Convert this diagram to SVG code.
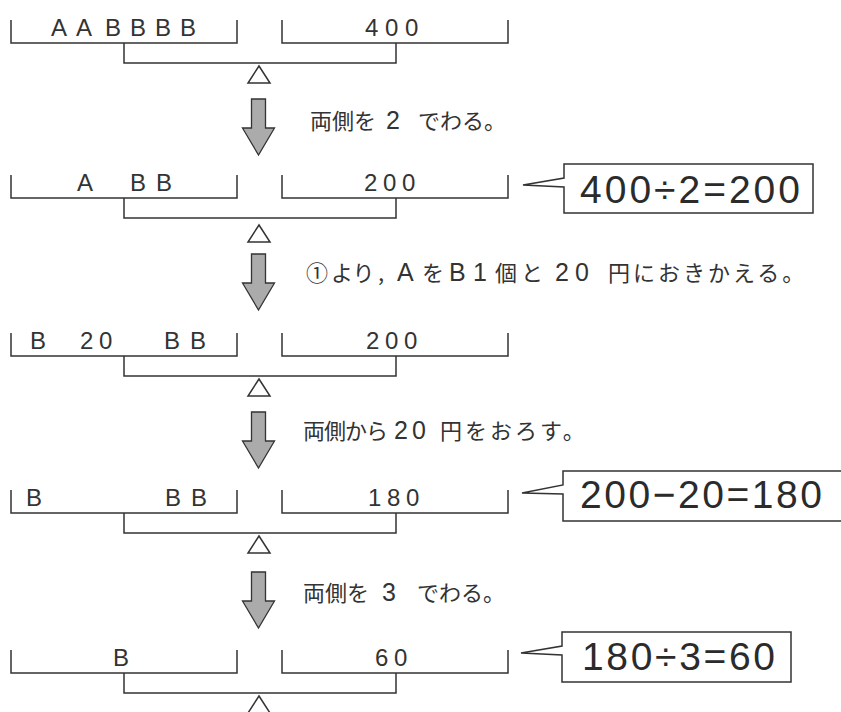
<svg xmlns="http://www.w3.org/2000/svg" xmlns:xlink="http://www.w3.org/1999/xlink" width="841" height="712" viewBox="0 0 841 712">
<style>
.ln{fill:none;stroke:#333;stroke-width:1.5}
.tri{fill:#fff;stroke:#333;stroke-width:1.5;stroke-linejoin:miter}
.arr{fill:#ababab;stroke:#333;stroke-width:1.3;stroke-linejoin:miter}
.box{fill:#fff;stroke:#333;stroke-width:1.5;stroke-linejoin:miter}
.pan{font-family:"Liberation Sans","Noto Sans",sans-serif;font-size:24px;fill:#333}
.lab{font-family:"Noto Sans CJK JP",sans-serif;font-size:22px;fill:#333}
.dg{font-family:"Liberation Sans",sans-serif;font-size:25px}
.eq{font-family:"Liberation Sans","Noto Sans",sans-serif;font-size:39px;fill:#2b2b2b}
</style>
<defs>
<path id="bal" class="ln" d="M11,-23 V0 H237 V-23 M282,-23 V0 H508 V-23 M124,0 V20 H396 V0"/>
<path id="ful" class="tri" d="M259,0 L248,17 L270,17 Z"/>
<path id="arw" class="arr" d="M251.5,0 H265.5 V29 H274.5 L258.5,56 L242.5,29 H251.5 Z"/>
</defs>

<g id="balance1">
<use xlink:href="#bal" y="43"/>
<use xlink:href="#ful" y="66"/>
<text class="pan" y="36"><tspan x="51">A</tspan><tspan x="76">A</tspan><tspan x="105">B</tspan><tspan x="130">B</tspan><tspan x="155">B</tspan><tspan x="180">B</tspan></text>
<text class="pan" y="36"><tspan x="365">4</tspan><tspan x="385">0</tspan><tspan x="405">0</tspan></text>
</g>

<g id="balance2">
<use xlink:href="#bal" y="198"/>
<use xlink:href="#ful" y="225"/>
<text class="pan" y="191"><tspan x="77">A</tspan><tspan x="130">B</tspan><tspan x="156">B</tspan></text>
<text class="pan" y="191"><tspan x="364">2</tspan><tspan x="383">0</tspan><tspan x="402">0</tspan></text>
</g>

<g id="balance3">
<use xlink:href="#bal" y="356"/>
<use xlink:href="#ful" y="379"/>
<text class="pan" y="349"><tspan x="30">B</tspan><tspan x="80">2</tspan><tspan x="99">0</tspan><tspan x="164">B</tspan><tspan x="190">B</tspan></text>
<text class="pan" y="349"><tspan x="366">2</tspan><tspan x="385">0</tspan><tspan x="404">0</tspan></text>
</g>

<g id="balance4">
<use xlink:href="#bal" y="513"/>
<use xlink:href="#ful" y="536"/>
<text class="pan" y="506"><tspan x="26">B</tspan><tspan x="165">B</tspan><tspan x="191">B</tspan></text>
<text class="pan" y="506"><tspan x="368">1</tspan><tspan x="387">8</tspan><tspan x="406">0</tspan></text>
</g>

<g id="balance5">
<use xlink:href="#bal" y="673"/>
<use xlink:href="#ful" y="696"/>
<text class="pan" y="666"><tspan x="113">B</tspan></text>
<text class="pan" y="666"><tspan x="375">6</tspan><tspan x="394">0</tspan></text>
</g>

<g id="connectors">
<use xlink:href="#arw" y="99"/>
<use xlink:href="#arw" y="254"/>
<use xlink:href="#arw" y="412"/>
<use xlink:href="#arw" y="572"/>
</g>

<g id="label1">
<text class="lab" y="129"><tspan x="310">両側を</tspan><tspan class="dg" x="386">2</tspan><tspan x="418">でわる。</tspan></text>
</g>
<g id="label2">
<text class="lab" y="281"><tspan x="306">①</tspan><tspan x="331">より</tspan><tspan x="378">,</tspan><tspan class="dg" x="397">A</tspan><tspan x="422">を</tspan><tspan class="dg" x="449">B</tspan><tspan class="dg" x="473">1</tspan><tspan x="495">個</tspan><tspan x="521">と</tspan><tspan class="dg" x="555" letter-spacing="6">20</tspan><tspan x="608">円</tspan><tspan x="633" letter-spacing="3">におきかえる。</tspan></text>
</g>
<g id="label3">
<text class="lab" y="439"><tspan x="303" letter-spacing="-1">両側から</tspan><tspan class="dg" x="394" letter-spacing="4">20</tspan><tspan x="440" letter-spacing="3">円をおろす。</tspan></text>
</g>
<g id="label4">
<text class="lab" y="601"><tspan x="303">両側を</tspan><tspan class="dg" x="382">3</tspan><tspan x="417">でわる。</tspan></text>
</g>

<g id="callout1">
<path class="box" d="M564,178 V164 H813 V213 H564 V187 L523,185 Z"/>
<text class="eq" x="580" y="203" textLength="220" lengthAdjust="spacing">400÷2=200</text>
</g>
<g id="callout2">
<path class="box" d="M563,485 V471 H846 V521 H563 V494 L522,493 Z"/>
<text class="eq" x="580" y="508" textLength="242" lengthAdjust="spacing">200−20=180</text>
</g>
<g id="callout3">
<path class="box" d="M562,646 V632 H791 V682 H562 V655 L521,653 Z"/>
<text class="eq" x="582" y="670" textLength="193" lengthAdjust="spacing">180÷3=60</text>
</g>
</svg>
